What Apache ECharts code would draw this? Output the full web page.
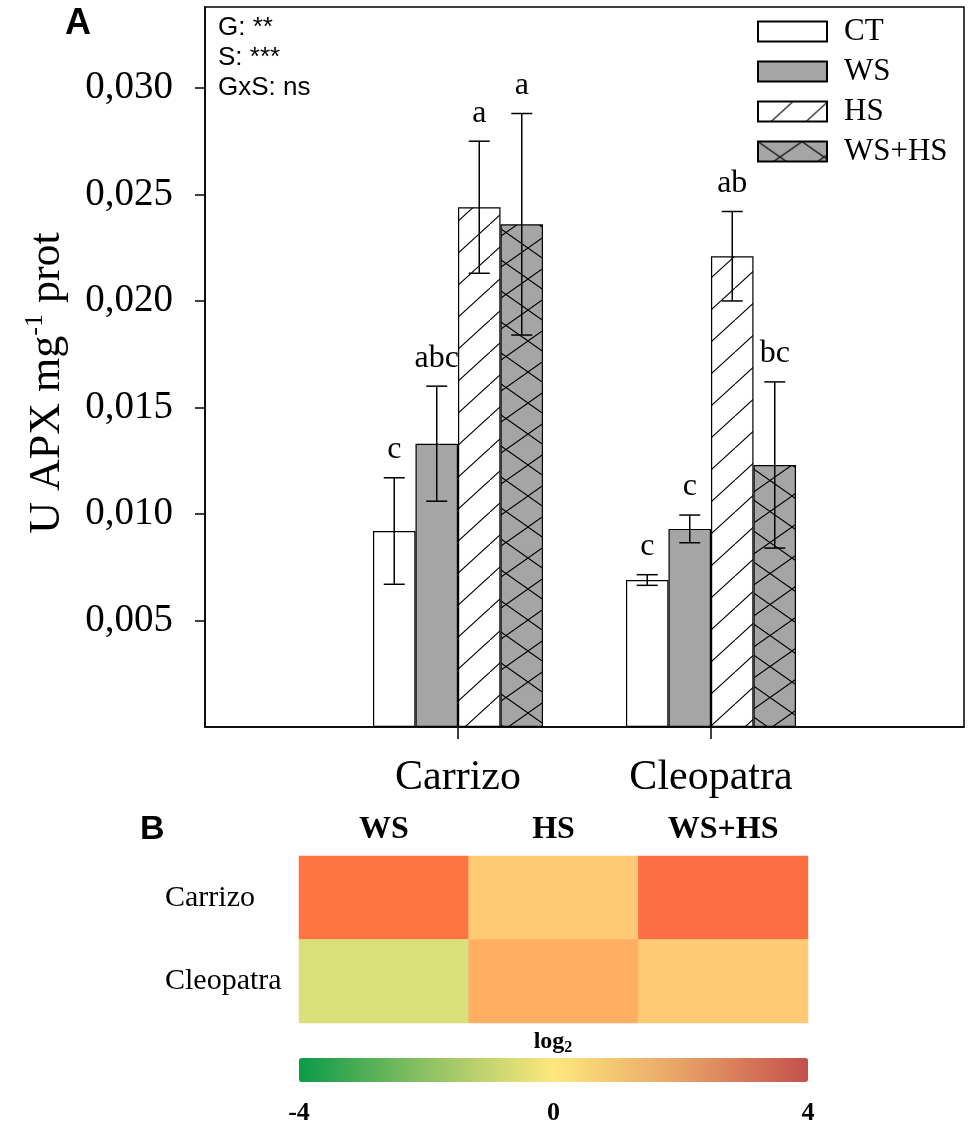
<!DOCTYPE html>
<html lang="en">
<head>
<meta charset="UTF-8">
<title>APX</title>
<script src="https://cdn.jsdelivr.net/npm/echarts@6.0.0/dist/echarts.min.js"></script>
<style>
  html, body { margin: 0; padding: 0; background: #fff; }
  #chart { width: 970px; height: 1128px; }
</style>
</head>
<body>
<div id="chart"></div>
<script>
// ---- panel A data (Carrizo, Cleopatra) ----
var genotypes = ['Carrizo', 'Cleopatra'];
var treatments = ['CT', 'WS', 'HS', 'WS+HS'];
var ctMean = [0.0092, 0.0069];
var wsMean = [0.0133, 0.0093];
var hsMean = [0.0244, 0.0221];
var wshsMean = [0.0236, 0.0123];
var ctErr = [0.0025, 0.00025];
var wsErr = [0.0027, 0.00065];
var hsErr = [0.0031, 0.0021];
var wshsErr = [0.0052, 0.0039];
var ctLetters = ['c', 'c'];
var wsLetters = ['abc', 'c'];
var hsLetters = ['a', 'ab'];
var wshsLetters = ['a', 'bc'];
var yTicks = [0.005, 0.010, 0.015, 0.020, 0.025, 0.030];
var statLines = ['G: **', 'S: ***', 'GxS: ns'];

// ---- panel B data (log2 ratio vs CT) ----
var heatCols = ['WS', 'HS', 'WS+HS'];
var heatRows = ['Cleopatra', 'Carrizo'];
var carrizoLog2 = [3.0, 1.0, 3.1];
var cleopatraLog2 = [-1.0, 2.0, 1.0];
var scaleTicks = [-4, 0, 4];

var grey = '#a5a5a5';
var serif = '"Liberation Serif", "Times New Roman", serif';
var sans = '"Liberation Sans", Arial, sans-serif';

// hatch tiles for HS and WS+HS
function hatch(w, h, bg, cross) {
    var c = document.createElement('canvas');
    c.width = w; c.height = h;
    var ctx = c.getContext('2d');
    ctx.fillStyle = bg;
    ctx.fillRect(0, 0, w, h);
    ctx.strokeStyle = '#000';
    ctx.lineWidth = 1.1;
    ctx.beginPath();
    ctx.moveTo(-w, 2 * h); ctx.lineTo(2 * w, -h);
    if (cross) { ctx.moveTo(-w, -h); ctx.lineTo(2 * w, 2 * h); }
    ctx.stroke();
    return c;
}

var means = [ctMean, wsMean, hsMean, wshsMean];
var errs = [ctErr, wsErr, hsErr, wshsErr];
var letters = [ctLetters, wsLetters, hsLetters, wshsLetters];
var fills = [
    '#ffffff',
    grey,
    { image: hatch(35, 32, '#ffffff', false), repeat: 'repeat' },
    { image: hatch(44, 31, grey, true), repeat: 'repeat' }
];
var barFrac = 0.168;   // bar width as part of the category band

var xCats = [''].concat(genotypes, ['']);

var series = [];
treatments.forEach(function (t, i) {
    series.push({
        name: t,
        type: 'bar',
        xAxisIndex: 0, yAxisIndex: 0,
        barWidth: (barFrac * 100) + '%',
        barGap: '0%',
        data: [null].concat(means[i], [null]),
        itemStyle: { color: fills[i], borderColor: '#000', borderWidth: 1.2 },
        emphasis: { disabled: true }
    });
});

// error bars + letters
var errData = [], errLetters = [];
treatments.forEach(function (t, i) {
    genotypes.forEach(function (g, j) {
        errData.push([j + 1, means[i][j], errs[i][j], i]);
        errLetters.push(letters[i][j]);
    });
});
series.push({
    name: 'err',
    type: 'custom',
    xAxisIndex: 0, yAxisIndex: 0,
    z: 5,
    data: errData,
    renderItem: function (params, api) {
        var cat = api.value(0), m = api.value(1), e = api.value(2), slot = api.value(3);
        var band = api.size([1, 0])[0];
        var bw = band * barFrac;
        var x = api.coord([cat, m])[0] + (slot - 1.5) * bw;
        var top = api.coord([cat, m + e])[1];
        var bot = api.coord([cat, m - e])[1];
        var cap = 10.5;
        var st = { stroke: '#000', lineWidth: 1.5 };
        return {
            type: 'group',
            children: [
                { type: 'line', shape: { x1: x, y1: top, x2: x, y2: bot }, style: st },
                { type: 'line', shape: { x1: x - cap, y1: top, x2: x + cap, y2: top }, style: st },
                { type: 'line', shape: { x1: x - cap, y1: bot, x2: x + cap, y2: bot }, style: st },
                {
                    type: 'text', x: x, y: top - 12,
                    style: {
                        text: errLetters[params.dataIndex], align: 'center', verticalAlign: 'bottom',
                        fontFamily: serif, fontSize: 32, fill: '#000'
                    }
                }
            ]
        };
    }
});

// heatmap
var heatData = [];
heatCols.forEach(function (c, i) {
    heatData.push([i, 1, carrizoLog2[i]]);
    heatData.push([i, 0, cleopatraLog2[i]]);
});
series.push({
    type: 'heatmap',
    xAxisIndex: 1, yAxisIndex: 1,
    data: heatData,
    emphasis: { disabled: true }
});
// empty series that carries the colour scale
series.push({ type: 'scatter', xAxisIndex: 2, yAxisIndex: 2, data: [] });

var myChart = echarts.init(document.getElementById('chart'));
var option = {
    animation: false,
    backgroundColor: '#fff',
    grid: [
        { left: 205, right: 6, top: 7, bottom: 401, show: true, borderColor: '#000', borderWidth: 1.5, backgroundColor: 'transparent' },
        { left: 299, width: 509, top: 856, height: 167 },
        { left: 299, width: 509, top: 1058, height: 24 }
    ],
    legend: {
        data: treatments,
        orient: 'vertical',
        left: 757, top: 16, padding: 0,
        itemWidth: 69, itemHeight: 20, itemGap: 9,
        icon: 'rect',
        selectedMode: false,
        textStyle: { fontFamily: serif, fontSize: 31, color: '#000', padding: [0, 0, 0, 12] }
    },
    xAxis: [
        {
            gridIndex: 0, type: 'category', data: xCats, boundaryGap: false,
            axisLine: { lineStyle: { color: '#000', width: 1.5 } },
            axisTick: {
                length: 12, lineStyle: { color: '#000', width: 1.5 },
                interval: function (idx) { return idx === 1 || idx === 2; }
            },
            axisLabel: { interval: 0, fontFamily: serif, fontSize: 42, color: '#000', margin: 30 }
        },
        {
            gridIndex: 1, type: 'category', data: heatCols, position: 'top',
            axisLine: { show: false }, axisTick: { show: false },
            axisLabel: { fontFamily: serif, fontSize: 32, fontWeight: 'bold', color: '#000', margin: 10 }
        },
        {
            gridIndex: 2, type: 'value', min: -4, max: 4, interval: 4,
            axisLine: { show: false }, axisTick: { show: false }, splitLine: { show: false },
            axisLabel: {
                customValues: scaleTicks,
                fontFamily: serif, fontSize: 26, fontWeight: 'bold', color: '#000', margin: 18
            }
        }
    ],
    yAxis: [
        {
            gridIndex: 0, type: 'value', min: 0, max: 0.0338, interval: 0.005,
            splitLine: { show: false },
            axisLine: { show: true, lineStyle: { color: '#000', width: 1.5 } },
            axisTick: { show: true, customValues: yTicks, length: 10, lineStyle: { color: '#000', width: 1.5 } },
            axisLabel: {
                customValues: yTicks,
                formatter: function (v) { return v.toFixed(3).replace('.', ','); },
                fontFamily: serif, fontSize: 39, color: '#000', margin: 32
            },
            name: '{m|U APX mg}{s|-1}{m| prot}',
            nameLocation: 'middle', nameRotate: 90, nameGap: 133,
            nameTextStyle: {
                padding: [0, 32, 0, 0],
                rich: {
                    m: { fontFamily: serif, fontSize: 44, color: '#000', lineHeight: 50, verticalAlign: 'middle' },
                    s: { fontFamily: serif, fontSize: 26, color: '#000', lineHeight: 50, verticalAlign: 'top' }
                }
            }
        },
        {
            gridIndex: 1, type: 'category', data: heatRows,
            axisLine: { show: false }, axisTick: { show: false },
            axisLabel: { align: 'left', margin: 134, fontFamily: serif, fontSize: 30, color: '#000' }
        },
        { gridIndex: 2, type: 'value', show: false }
    ],
    visualMap: [
        {
            type: 'continuous', show: false, seriesIndex: 5, min: -4, max: 4,
            inRange: { color: ['#1a9641', '#66bd63', '#a6d96a', '#d9e07a', '#ffe680', '#ffca73', '#ffae62', '#ff7443', '#e0403a'] }
        },
        {
            type: 'continuous', seriesIndex: 6, min: -4, max: 4,
            orient: 'horizontal', left: 299, top: 1058,
            itemWidth: 24, itemHeight: 509, padding: 0,
            calculable: false, hoverLink: false, text: null,
            inRange: { color: ['#0b9a48', '#8ec163', '#fee87c', '#e8a266', '#c4504c'] }
        }
    ],
    graphic: [
        { type: 'text', left: 65, top: 6, style: { text: 'A', fontFamily: sans, fontSize: 36, fontWeight: 'bold', fill: '#000' } },
        { type: 'text', left: 140, top: 813, style: { text: 'B', fontFamily: sans, fontSize: 34, fontWeight: 'bold', fill: '#000' } },
        { type: 'text', left: 218, top: 13, style: { text: statLines.join('\n'), fontFamily: sans, fontSize: 26, lineHeight: 30, fill: '#000' } },
        {
            type: 'text', x: 553, y: 1042,
            style: {
                text: '{a|log}{b|2}', align: 'center', verticalAlign: 'middle',
                rich: {
                    a: { fontFamily: serif, fontSize: 24, fontWeight: 'bold', fill: '#000', lineHeight: 28, verticalAlign: 'middle' },
                    b: { fontFamily: serif, fontSize: 16, fontWeight: 'bold', fill: '#000', lineHeight: 28, verticalAlign: 'bottom' }
                }
            }
        }
    ],
    series: series
};
myChart.setOption(option);
</script>
</body>
</html>
